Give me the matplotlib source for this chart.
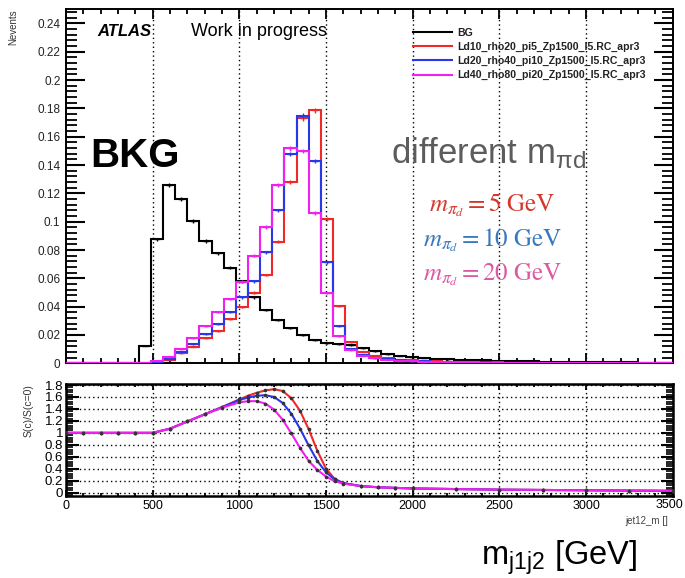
import numpy as np
import matplotlib
matplotlib.use('Agg')
import matplotlib.pyplot as plt
from matplotlib.ticker import MultipleLocator, FuncFormatter

plt.rcParams['font.family'] = ['Liberation Sans', 'DejaVu Sans']
plt.rcParams['mathtext.fontset'] = 'custom'
plt.rcParams['mathtext.rm'] = 'Liberation Sans'
plt.rcParams['mathtext.it'] = 'Liberation Sans:italic'

# histogram: 50 bins of 70 GeV from 0 to 3500
bin_edges = np.linspace(0, 3500, 51)

bg = [0, 0, 0, 0, 0, 0, 0.0124, 0.0875, 0.1259, 0.116,
      0.1007, 0.0863, 0.0776, 0.0674, 0.0578, 0.0466, 0.0376, 0.0306, 0.0247, 0.0200,
      0.0164, 0.0141, 0.0134, 0.0127, 0.0106, 0.0085, 0.0065, 0.0052, 0.0044, 0.0037,
      0.0032, 0.0028, 0.0025, 0.0022, 0.0020, 0.0019, 0.0017, 0.0015, 0.0013, 0.0012,
      0.0011, 0.0010, 0.0009, 0.0008, 0.0007, 0.0006, 0.0006, 0.0005, 0.0004, 0.0004]
sig_pi5 = [0, 0, 0, 0, 0, 0, 0.0002, 0.0010, 0.0023, 0.0071,
           0.0118, 0.0176, 0.0230, 0.0310, 0.0400, 0.0500, 0.0623, 0.0858, 0.1280, 0.1730,
           0.1788, 0.1017, 0.0404, 0.0148, 0.0082, 0.0052, 0.0035, 0.0026, 0.0020, 0.0016,
           0.0013, 0.0011, 0.0009, 0.0008, 0.0007, 0.0006, 0.0005, 0.0004, 0.0004, 0.0003,
           0.0003, 0.0002, 0.0002, 0.0002, 0.0001, 0.0001, 0.0001, 0.0001, 0.0001, 0.0001]
sig_pi10 = [0, 0, 0, 0, 0, 0, 0.0003, 0.0012, 0.0028, 0.0080,
            0.0136, 0.0207, 0.0275, 0.0364, 0.0466, 0.0580, 0.0783, 0.1080, 0.1480, 0.1750,
            0.1428, 0.0713, 0.0263, 0.0103, 0.0059, 0.0040, 0.0028, 0.0020, 0.0016, 0.0013,
            0.0011, 0.0009, 0.0008, 0.0007, 0.0006, 0.0005, 0.0004, 0.0004, 0.0003, 0.0003,
            0.0002, 0.0002, 0.0002, 0.0001, 0.0001, 0.0001, 0.0001, 0.0001, 0.0001, 0.0001]
sig_pi20 = [0, 0, 0, 0, 0, 0, 0.0004, 0.0018, 0.0047, 0.0100,
            0.0176, 0.0260, 0.0362, 0.0454, 0.0576, 0.0760, 0.0964, 0.1259, 0.1518, 0.1500,
            0.1060, 0.0498, 0.0193, 0.0094, 0.0052, 0.0035, 0.0025, 0.0018, 0.0014, 0.0011,
            0.0009, 0.0008, 0.0007, 0.0006, 0.0005, 0.0004, 0.0004, 0.0003, 0.0003, 0.0002,
            0.0002, 0.0002, 0.0001, 0.0001, 0.0001, 0.0001, 0.0001, 0.0001, 0.0001, 0.0001]

labels = ['BG', 'Ld10_rho20_pi5_Zp1500_l5.RC_apr3',
          'Ld20_rho40_pi10_Zp1500_l5.RC_apr3', 'Ld40_rho80_pi20_Zp1500_l5.RC_apr3']
colors = ['black', '#f02828', '#2838e8', '#f020f0']

# lower panel: S(c)/S(c=0) scan
scan_x = [0, 100, 200, 300, 400, 500, 600, 700, 800, 900, 1000, 1050, 1100, 1150, 1200,
          1250, 1300, 1350, 1400, 1450, 1500, 1550, 1600, 1700, 1800, 1900, 2000,
          2250, 2500, 2750, 3000, 3250, 3500]
ratio_pi5 = [1, 1, 1, 1, 1, 1, 1.07, 1.19, 1.31, 1.43, 1.56, 1.62, 1.67, 1.71, 1.73,
             1.70, 1.58, 1.37, 1.06, 0.70, 0.40, 0.23, 0.16, 0.11, 0.09, 0.08, 0.07,
             0.06, 0.05, 0.045, 0.04, 0.035, 0.03]
ratio_pi10 = [1, 1, 1, 1, 1, 1, 1.07, 1.19, 1.31, 1.43, 1.55, 1.59, 1.62, 1.63, 1.60,
              1.50, 1.32, 1.07, 0.79, 0.53, 0.34, 0.22, 0.16, 0.11, 0.09, 0.08, 0.07,
              0.06, 0.05, 0.045, 0.04, 0.035, 0.03]
ratio_pi20 = [1, 1, 1, 1, 1, 1, 1.07, 1.19, 1.31, 1.42, 1.51, 1.53, 1.53, 1.49, 1.39,
              1.22, 0.99, 0.75, 0.53, 0.38, 0.27, 0.19, 0.15, 0.11, 0.09, 0.08, 0.07,
              0.06, 0.05, 0.045, 0.04, 0.035, 0.03]

W, H = 685, 578
fig = plt.figure(figsize=(6.85, 5.78), dpi=100)
ax = fig.add_axes([66 / W, 1 - 363.3 / H, 606.7 / W, 354 / H])
axr = fig.add_axes([66 / W, 1 - 496 / H, 606.7 / W, 112 / H])

centers = 0.5 * (bin_edges[1:] + bin_edges[:-1])
for vals, col, lab in zip([bg, sig_pi5, sig_pi10, sig_pi20], colors, labels):
    v = np.array(vals)
    ax.stairs(v, bin_edges, color=col, lw=1.5, label=lab, zorder=3)
    m = v > 0.001
    ax.errorbar(centers[m], v[m], yerr=0.004 * np.sqrt(v[m]), fmt='none',
                ecolor=col, elinewidth=1, zorder=3)
    ax.plot(centers[m], v[m], ls='none', marker='_', ms=4, mew=1, color=col, zorder=3)

ax.set_xlim(0, 3500)
ax.set_ylim(0, 0.25)
for xv in [500, 1000, 1500, 2000, 2500, 3000]:
    ax.axvline(xv, color='black', lw=1, ls=(0, (1, 2.2)), zorder=1)

ax.xaxis.set_major_locator(MultipleLocator(500))
ax.xaxis.set_minor_locator(MultipleLocator(100))
ax.yaxis.set_major_locator(MultipleLocator(0.02))
ax.yaxis.set_minor_locator(MultipleLocator(0.004))
ax.yaxis.set_major_formatter(FuncFormatter(lambda v, p: '%g' % round(v, 3)))
ax.tick_params(axis='x', which='major', direction='in', length=7, width=1.3,
               top=True, bottom=True, labelbottom=False)
ax.tick_params(axis='x', which='minor', direction='in', length=3.5, width=1.3,
               top=True, bottom=True)
ax.tick_params(axis='y', which='major', direction='in', length=14, width=1.5,
               left=True, right=True, labelsize=8.5, labelcolor='#222222', pad=4)
ax.tick_params(axis='y', which='minor', direction='in', length=8, width=1.3,
               left=True, right=True)
for s in ax.spines.values():
    s.set_linewidth(1.4)
ax.set_ylabel('Nevents', fontsize=7, color='#333333', loc='top', labelpad=14)

leg = ax.legend(loc='upper left', bbox_to_anchor=(413 / W, 1 - 28 / H),
                bbox_transform=fig.transFigure, frameon=False,
                prop={'size': 7.6, 'weight': 'bold'},
                handlelength=3.7, handletextpad=0.45, labelspacing=0.38,
                borderpad=0, borderaxespad=0)
for txt in leg.get_texts():
    txt.set_color('#222222')

fig.text(97 / W, 1 - 36 / H, 'ATLAS', fontsize=12, fontweight='bold',
         fontstyle='italic')
fig.text(191 / W, 1 - 36 / H, 'Work in progress', fontsize=13)
fig.text(90 / W, 1 - 167 / H, 'BKG', fontsize=29, fontweight='bold')
fig.text(391 / W, 1 - 163 / H, r'different m$_{\mathregular{πd}}$', fontsize=25,
         color='#5c5c5c')
fig.text(492 / W, 1 - 211 / H, r'$m_{\pi_d} = 5\ \mathrm{GeV}$', fontsize=18,
         color='#d4382c', math_fontfamily='stix', ha='center')
fig.text(492 / W, 1 - 246 / H, r'$m_{\pi_d} = 10\ \mathrm{GeV}$', fontsize=18,
         color='#3a78bc', math_fontfamily='stix', ha='center')
fig.text(492 / W, 1 - 280 / H, r'$m_{\pi_d} = 20\ \mathrm{GeV}$', fontsize=18,
         color='#dc5aa2', math_fontfamily='stix', ha='center')

# lower panel
for vals, col in zip([ratio_pi5, ratio_pi10, ratio_pi20], colors[1:]):
    axr.plot(scan_x, vals, color=col, lw=1.5, marker='o', ms=1.6, mfc='#333333',
             mec='#333333', zorder=3)
axr.set_xlim(0, 3500)
axr.set_ylim(-0.056, 1.817)
axr.xaxis.set_major_locator(MultipleLocator(500))
axr.xaxis.set_minor_locator(MultipleLocator(100))
# last label (3500) is placed by hand so it stays inside the figure
axr.xaxis.set_major_formatter(FuncFormatter(lambda v, p: '' if v >= 3500 else '%d' % v))
axr.yaxis.set_major_locator(MultipleLocator(0.2))
axr.yaxis.set_minor_locator(MultipleLocator(0.04))
axr.yaxis.set_major_formatter(FuncFormatter(lambda v, p: '%g' % round(v, 2)))
axr.grid(which='major', color='black', lw=1, ls=(0, (1, 2.2)), zorder=1)
axr.tick_params(axis='x', which='major', direction='in', length=4, width=1.3,
                top=True, labelsize=9, pad=3)
axr.tick_params(axis='x', which='minor', direction='in', length=2, width=1.3, top=True)
axr.tick_params(axis='y', which='major', direction='in', length=9, width=1.5,
                right=True, labelsize=9.5, pad=2)
axr.tick_params(axis='y', which='minor', direction='in', length=5, width=1.2, right=True)
for s in axr.spines.values():
    s.set_linewidth(1.8)
axr.set_ylabel('S(c)/S(c=0)', fontsize=7.5, color='#333333', loc='top', labelpad=8)
fig.text(683 / W, 1 - 508 / H, '3500', fontsize=9, ha='right')

fig.text(668 / W, 1 - 524 / H, 'jet12_m []', fontsize=7, ha='right',
         color='#444444')

fig.text(481 / W, 1 - 565 / H, r'm$_{\mathregular{j1j2}}$ [GeV]', fontsize=23.5)

fig.savefig('out.png', dpi=100)
